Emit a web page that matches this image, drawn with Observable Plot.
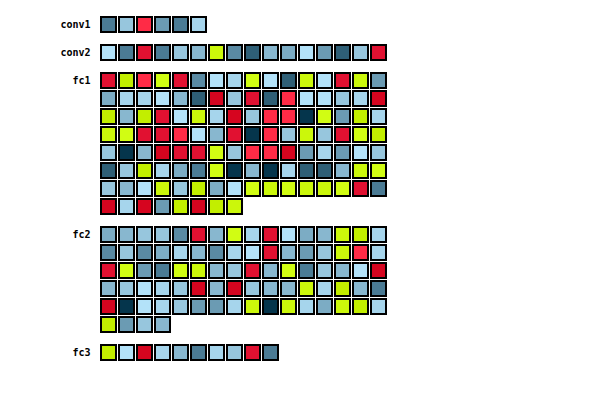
<!DOCTYPE html>
<html>
<head>
<meta charset="utf-8">
<script src="https://cdn.jsdelivr.net/npm/d3@7"></script>
<script src="https://cdn.jsdelivr.net/npm/@observablehq/plot@0.6"></script>
<style>
  html, body { margin: 0; padding: 0; background: #fff; }
</style>
</head>
<body>
<div id="chart"></div>
<script>
// Layer names
const layers = ["conv1", "conv2", "fc1", "fc2", "fc3"];
// Cells per row
const perRow = 16;
// Cell colour codes per layer (B0..B9 blue dark→light, R0..R2 red, G0..G2 lime)
const conv1 = ["B2","B7","R2","B4","B2","B8"];
const conv2 = ["B9","B2","R1","B2","B7","B6","G1","B3","B1","B6","B5","B9","B4","B1","B7","R1"];
const fc1 = [
  "R1","G0","R2","G2","R1","B3","B9","B8","G2","B9","B1","G1","B9","R1","G1","B4",
  "B5","B8","B8","B9","B6","B1","R0","B7","R1","B1","R2","B9","B9","B7","B8","R0",
  "G0","B6","G0","R1","B9","G1","B8","R0","B7","R2","R2","B0","G2","B4","G0","B8",
  "G1","G2","R1","R1","R2","B9","B6","R1","B0","R2","B7","G1","B7","R1","G2","G0",
  "B7","B0","B6","R0","R1","R1","G2","B7","R2","R2","R0","B4","B8","B4","B9","B7",
  "B1","B7","G0","B8","B5","B2","G2","B0","B6","B0","B8","B1","B1","B6","G1","G2",
  "B7","B6","B9","G1","B7","G0","B5","B9","G2","G1","G2","G1","G1","G2","R1","B2",
  "R0","B8","R0","B4","G0","R0","G0","G1"
];
const fc2 = [
  "B5","B6","B7","B7","B3","R1","B6","G2","B8","R1","B9","B5","B6","G1","G0","B8",
  "B3","B7","B3","B5","B8","B6","B3","B8","B9","R1","B6","B4","B7","G1","R2","B8",
  "R1","G2","B4","B2","G2","G1","B6","B7","R1","B6","G2","B2","B7","B6","B9","R0",
  "B6","B7","B9","B8","B7","R0","B6","R0","B7","B6","B6","G1","B8","G0","B6","B2",
  "R0","B0","B9","B8","B7","B4","B4","B8","G1","B0","G1","B8","B5","G1","G0","B8",
  "G0","B4","B7","B6"
];
const fc3 = ["G0","B9","R0","B8","B6","B2","B8","B7","R1","B2"];

const codes = ["B0","B1","B2","B3","B4","B5","B6","B7","B8","B9","R0","R1","R2","G0","G1","G2"];
const palette = ["#05354c","#2f5f76","#4b7b94","#5a8aa3","#6b9bb3","#7cacc4","#88b7cf","#97c6dd","#a6d5ec","#b3e2f9",
                 "#d6051f","#e11131","#ff2b46","#c2ee00","#cbf70b","#d1fd13"];

const layerCells = [conv1, conv2, fc1, fc2, fc3];
const gap = 10 / 18; // extra spacing between layers, in row units

// Build table
const cells = [];
const labels = [];
let rowOffset = 0;
layerCells.forEach((arr, li) => {
  const base = rowOffset + li * gap;
  labels.push({name: layers[li], y: base + 0.5});
  arr.forEach((code, i) => {
    cells.push({layer: layers[li], col: i % perRow, row: base + Math.floor(i / perRow), code});
  });
  rowOffset += Math.ceil(arr.length / perRow);
});

const chart = Plot.plot({
  width: 600,
  height: 400,
  margin: 0,
  style: {background: "#fff"},
  x: {domain: [-100 / 18, 500 / 18], range: [0, 600], axis: null},
  y: {domain: [-16 / 18, 384 / 18], range: [0, 400], axis: null},
  color: {type: "ordinal", domain: codes, range: palette},
  marks: [
    Plot.rect(cells, {
      x1: "col", x2: d => d.col + 1,
      y1: "row", y2: d => d.row + 1,
      fill: "code",
      stroke: "#000",
      strokeWidth: 2,
      insetLeft: 1, insetRight: 2, insetTop: 1, insetBottom: 2
    }),
    Plot.text(labels, {
      x: () => 0, y: "y", text: "name",
      dx: -10, dy: -0.5,
      textAnchor: "end",
      fontFamily: "DejaVu Sans Mono",
      fontWeight: "bold",
      fontSize: 10,
      fill: "#000"
    })
  ]
});
document.getElementById("chart").appendChild(chart);
</script>
</body>
</html>
